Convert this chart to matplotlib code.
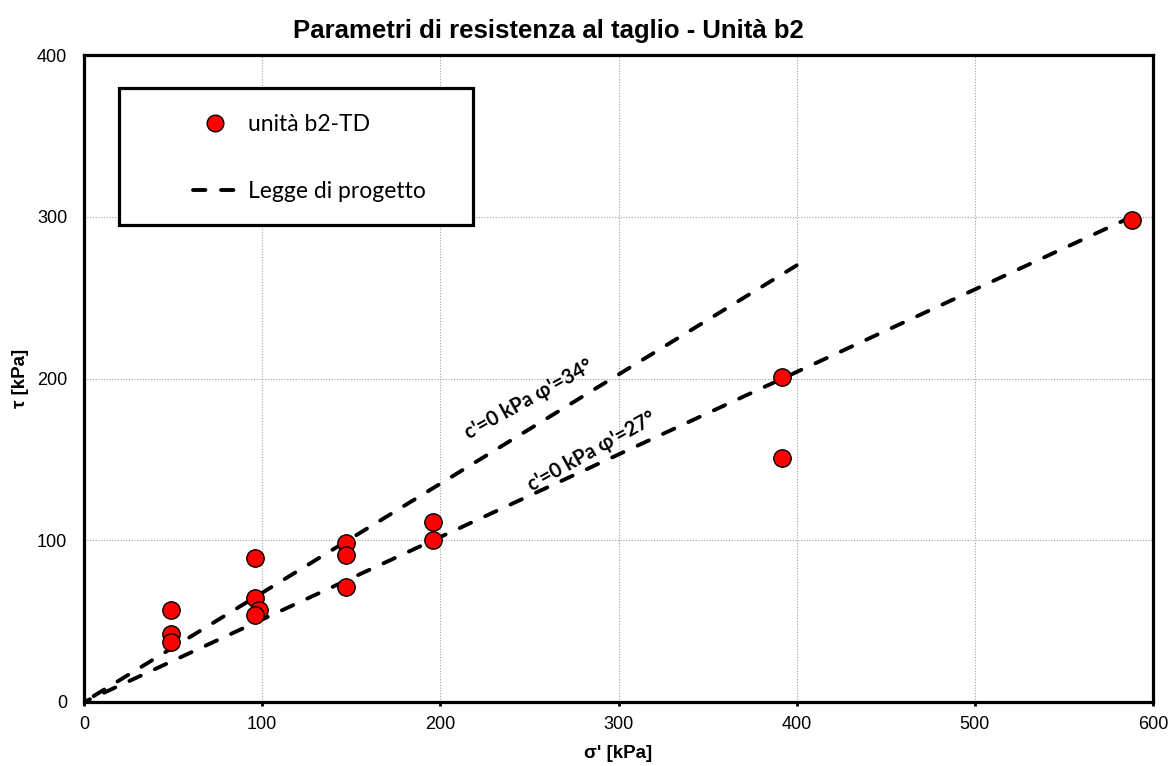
import matplotlib
matplotlib.use("Agg")
from matplotlib import pyplot as plt
from matplotlib.patches import Rectangle

# test data (sigma', tau) in kPa
sigma = [49, 49, 49, 96, 96, 98, 96, 147, 147, 147, 196, 196, 392, 392, 588]
tau = [57, 42, 37, 89, 64, 57, 54, 98, 91, 71, 111, 100, 201, 151, 298]

# design envelopes
law34_x = [0, 400]
law34_y = [0, 270]
law27_x = [0, 588]
law27_y = [0, 300]

x_ticks = [0, 100, 200, 300, 400, 500, 600]
y_ticks = [0, 100, 200, 300, 400]

plt.rcParams['font.family'] = ['Liberation Sans', 'DejaVu Sans']

fig = plt.figure(figsize=(11.72, 7.66), dpi=100)
ax = fig.add_axes([0.0717, 0.0836, 0.9121, 0.8444])

ax.grid(True, color='#a0a0a0', linestyle=(0, (1, 1.5)), linewidth=0.8)
ax.set_axisbelow(True)

# drawn from the far end so the dash pattern finishes on a dash there
dash_kw = dict(color='black', lw=2.8, dashes=(3.2, 4.0), dash_capstyle='round')
ax.plot(law34_x[::-1], law34_y[::-1], zorder=2, **dash_kw)
ax.plot(law27_x[::-1], law27_y[::-1], zorder=2, label='Legge di progetto', **dash_kw)
ax.plot(sigma, tau, 'o', ms=12.5, mfc='#ff0000', mec='black', mew=1.0,
        zorder=3, label='unità b2-TD')

ax.set_xlim(0, 600)
ax.set_ylim(0, 400)
ax.set_xticks(x_ticks)
ax.set_yticks(y_ticks)
ax.tick_params(axis='x', length=3, width=2, direction='out', labelsize=13, pad=7)
ax.tick_params(axis='y', length=0, labelsize=13, pad=12)
for s in ax.spines.values():
    s.set_linewidth(2.3)
    s.set_color('black')

ax.set_xlabel("σ' [kPa]", fontsize=13.5, fontweight='bold', labelpad=9)
ax.set_ylabel("τ [kPa]", fontsize=13.5, fontweight='bold', labelpad=6)
fig.text(0.4676, 0.9595, "Parametri di resistenza al taglio - Unità b2",
         ha='center', va='center', fontsize=18.5, fontweight='bold')

ann_font = ['Lato', 'DejaVu Sans']
ax.text(250, 187, "c'=0 kPa φ'=34°", rotation=29, rotation_mode='anchor',
        ha='center', va='center', fontsize=14.5, fontweight='bold', family=ann_font)
ax.text(285, 155, "c'=0 kPa φ'=27°", rotation=29, rotation_mode='anchor',
        ha='center', va='center', fontsize=14.5, fontweight='bold', family=ann_font)

# legend box drawn separately so the entries can sit inside it like the original
ax.add_patch(Rectangle((0.0327, 0.737), 0.3312, 0.212, transform=ax.transAxes,
                       facecolor='white', edgecolor='black', lw=2.3, zorder=4))
handles, labels = ax.get_legend_handles_labels()
leg = ax.legend(handles[::-1], labels[::-1], loc='upper left',
                bbox_to_anchor=(0.102, 0.909), prop={'family': 'Lato', 'size': 16.5},
                labelspacing=2.0, borderpad=0, handlelength=1.95,
                handletextpad=0.45, borderaxespad=0, frameon=False)
leg.set_zorder(5)
for h in leg.legend_handles:
    h.set_markersize(12)

fig.savefig('out.png', dpi=100)
